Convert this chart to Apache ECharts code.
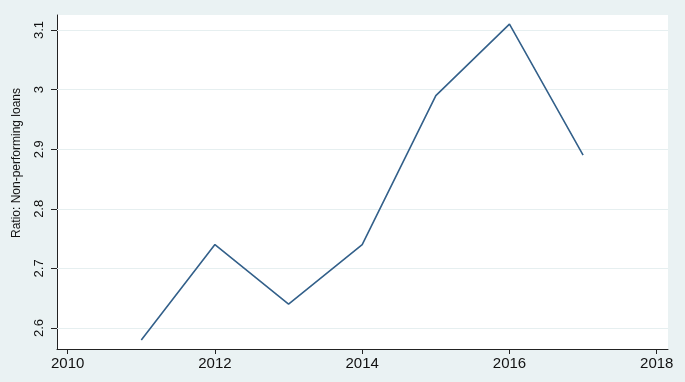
<!DOCTYPE html>
<html><head><meta charset="utf-8">
<script src="https://cdn.jsdelivr.net/npm/echarts@6/dist/echarts.min.js"></script>
<style>html,body{margin:0;padding:0;background:#eaf2f3;}#c{width:685px;height:382px;}</style>
</head><body><div id="c"></div>
<script>
const years = [2011, 2012, 2013, 2014, 2015, 2016, 2017];
const npl = [2.58, 2.74, 2.64, 2.74, 2.99, 3.11, 2.89];
const xTicks = [2010, 2012, 2014, 2016, 2018];
const yTicks = [2.6, 2.7, 2.8, 2.9, 3.0, 3.1];
const yTickLabels = ['2.6', '2.7', '2.8', '2.9', '3', '3.1'];
const yTitle = 'Ratio: Non-performing loans';

const chart = echarts.init(document.getElementById('c'));
const font = 'Liberation Sans, Arial, sans-serif';
chart.setOption({
  backgroundColor: '#eaf2f3',
  animation: false,
  grid: {left: 57, right: 17, top: 15, bottom: 33, show: true, backgroundColor: '#ffffff', borderWidth: 0},
  xAxis: {
    type: 'value', min: 2009.855, max: 2018.153,
    axisLine: {show: true, onZero: false, lineStyle: {color: '#222', width: 1}},
    axisTick: {show: true, customValues: xTicks, length: 5, lineStyle: {color: '#222'}},
    axisLabel: {customValues: xTicks, color: '#111', fontFamily: font, fontSize: 15, margin: 7,
      formatter: v => String(Math.round(v))},
    splitLine: {show: false}
  },
  yAxis: {
    type: 'value', min: 2.5648, max: 3.1252,
    axisLine: {show: true, onZero: false, lineStyle: {color: '#222', width: 1}},
    axisTick: {show: true, customValues: yTicks, length: 6, lineStyle: {color: '#222'}},
    axisLabel: {customValues: yTicks, rotate: 90, color: '#111', fontFamily: font, fontSize: 13, margin: 11,
      formatter: v => { const i = yTicks.findIndex(t => Math.abs(t - v) < 1e-6); return i >= 0 ? yTickLabels[i] : ''; }},
    splitLine: {show: false}
  },
  graphic: [{
    type: 'text', x: 11, y: 163, rotation: Math.PI / 2,
    style: {text: yTitle, fill: '#111', font: '12px ' + font, align: 'center', verticalAlign: 'top'}
  }],
  series: [{
    type: 'line',
    data: years.map((y, i) => [y, npl[i]]),
    symbol: 'none',
    lineStyle: {color: '#33608a', width: 1.6},
    z: 4,
    markLine: {
      z: 1,
      silent: true, symbol: 'none', label: {show: false},
      lineStyle: {color: '#e6eff0', width: 1.2, type: 'solid'},
      data: yTicks.map(v => ({yAxis: v}))
    }
  }]
});
</script></body></html>
